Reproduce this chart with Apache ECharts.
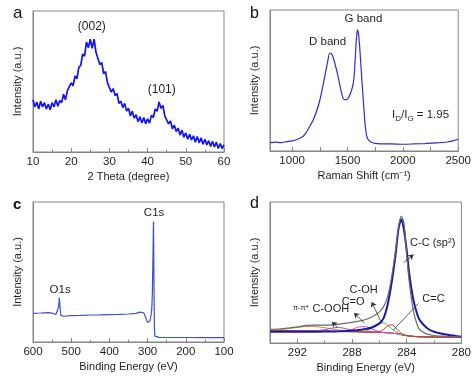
<!DOCTYPE html>
<html><head><meta charset="utf-8">
<script src="https://cdn.jsdelivr.net/npm/echarts@6/dist/echarts.min.js"></script>
<style>html,body{margin:0;padding:0;background:#fff}#c{width:474px;height:379px}</style>
</head><body><div id="c"></div>
<script>
// ---------- Panel a: XRD ----------
const xrdTheta = [10,10.5,11,11.5,12,12.5,13,13.5,14,14.5,15,15.5,16,16.5,17,17.5,18,18.5,19,19.5,20,20.5,21,21.5,22,22.5,23,23.5,24,24.5,25,25.5,26,26.5,27,27.5,28,28.5,29,29.5,30,30.5,31,31.5,32,32.5,33,33.5,34,34.5,35,35.5,36,36.5,37,37.5,38,38.5,39,39.5,40,40.5,41,41.5,42,42.5,43,43.5,44,44.5,45,45.5,46,46.5,47,47.5,48,48.5,49,49.5,50,50.5,51,51.5,52,52.5,53,53.5,54,54.5,55,55.5,56,56.5,57,57.5,58,58.5,59,59.5,60];
const xrdIntensity = [37,32,35.5,30.5,36,32,35,30.5,34,30,35,32,37,32.5,36.5,35,41,37,43.5,43,49,47,54,52,60,61.5,69.5,68,78,74,80,73.5,80,70.5,71,62,63.5,55.5,57,49,49.5,42.5,45,40,41.5,34.5,36,31.5,34.5,29,31,25.5,29,24,26.5,21.5,25,20.5,24.5,20,23.5,20.5,26,24.5,30.5,29,35.5,31,33,25.5,26.5,20,22,16.5,19,14.5,17,12,15.5,10.5,13.5,9,12.5,8.5,11.5,7,11,6.5,10,5.5,9,5,8,4,7.5,3.5,7,2.5,6,2.5,5];
const xrdPeakNames = ['(002)','(101)'];
const xrdPeakPos = [[25.4,88.9],[43.7,44]];

// ---------- Panel b: Raman ----------
const ramanShift = [800,850,900,950,1000,1050,1100,1130,1160,1190,1220,1250,1280,1300,1320,1340,1355,1370,1390,1410,1430,1450,1470,1490,1510,1530,1550,1560,1570,1580,1590,1600,1610,1620,1630,1640,1650,1660,1670,1680,1700,1720,1750,1800,1900,2000,2100,2200,2300,2400,2450,2500];
const ramanIntensity = [5.9,6.3,6.0,6.6,7.2,8.3,10.5,13.5,17.5,22,28,36,47,55,63,69.5,69,66.5,61,54.5,47,40,36.5,36.5,38,41.5,47,53,66,79,86,82.5,74,62,50,39,28,18,12,9,7,6,5.4,5.1,5.0,4.8,5.0,5.3,5.7,6.4,7.2,8.3];
const ramanTickLabels = [1000,1500,2000,2500];
const ramanTicks = [1000,1250,1500,1750,2000,2250,2500];

// ---------- Panel c: XPS survey ----------
const surveyBE = [600,580,560,550,545,540,535,533,531,529,527,524,520,500,475,450,425,400,375,350,330,320,315,310,305,300,297,294,291,289,287.5,286,285,284.5,284,283,282,281,279,270,250,200,150,100];
const surveyIntensity = [20.5,20.7,21.0,20.6,20.0,19.6,20.0,25,31.5,24,19,18.4,18.4,18.8,19.0,19.3,19.4,19.6,19.7,20.0,20.5,21.3,21.8,20.8,17.5,14,13.5,15,19,24,35,60,80,86,70,30,9,4.2,3.4,3.3,3.2,3.2,3.1,3.1];
const surveyPeakNames = ['C1s','O1s'];
const surveyPeakPos = [[283,92],[529,37.6]];

// ---------- Panel d: C1s high resolution ----------
const c1sBE = [294,293,292,291,290,289.5,289,288.5,288,287.5,287,286.5,286,285.7,285.4,285.1,284.8,284.6,284.4,284.2,284,283.8,283.5,283.2,283,282.5,282,281,280];
const c1sRaw = [9.6,10.3,11.5,12.7,12.7,12.9,13.4,13.9,14.6,15.5,16.7,18.6,22.1,25.6,32.7,47,67,82,90,85,62,42,22,12,9,6.3,5.3,4.8,4.4];
const c1sCC = [8.0,8.0,8.0,8.0,8.1,8.2,8.3,8.5,8.8,9.2,9.9,11.2,13.9,17.5,27,43,64,81,87.8,80,65.5,48,30,19.5,15.5,10.5,8,5.8,4.4];
const c1sCeqC = [8.8,8.7,8.6,8.5,8.4,8.3,8.2,8.1,8.0,7.9,7.8,7.75,8.1,9.7,12.1,13.0,10.8,8.6,6.9,5.9,5.3,4.95,4.7,4.5,4.4,4.3,4.2,4.1,4.0];
const c1sCOH = [8.8,8.7,8.6,8.5,8.4,8.3,8.2,8.1,8.0,7.95,8.45,10.8,14.05,14.3,12.6,10.1,8.05,6.95,6.2,5.6,5.3,4.9,4.7,4.5,4.4,4.3,4.2,4.1,4.0];
const c1sCO = [8.8,8.7,8.6,8.5,8.4,8.3,8.2,8.5,9.6,11.4,11.6,9.7,8.0,7.6,7.25,7.0,6.7,6.3,5.9,5.5,5.2,4.9,4.7,4.5,4.4,4.3,4.2,4.1,4.0];
const c1sCOOH = [8.8,8.7,8.6,8.55,9.4,10.5,11.0,10.3,9.0,8.2,7.8,7.7,7.5,7.4,7.2,7.0,6.7,6.3,5.9,5.5,5.2,4.9,4.7,4.5,4.4,4.3,4.2,4.1,4.0];
const c1sPi = [9.0,9.7,11.05,11.8,10.85,10.0,9.2,8.6,8.2,8.0,7.8,7.7,7.5,7.4,7.2,7.0,6.7,6.3,5.9,5.5,5.2,4.9,4.7,4.5,4.4,4.3,4.2,4.1,4.0];
const c1sBg = [8.8,8.7,8.6,8.5,8.4,8.3,8.2,8.1,8.0,7.9,7.8,7.7,7.5,7.4,7.2,7.0,6.7,6.3,5.9,5.5,5.2,4.9,4.7,4.5,4.4,4.3,4.2,4.1,4.0];

const FONT = '"Liberation Sans", Arial, sans-serif';
const TXT = '#1e1e1e';
const FRAME = '#858585';
const zip = (a, b) => a.map((v, i) => [v, b[i]]);
const plain = v => String(v);

function xAx(i, o) {
  return Object.assign({
    gridIndex: i, type: 'value',
    axisLine: {show: true, onZero: false, lineStyle: {color: FRAME, width: 1}},
    axisTick: {show: true, inside: true, length: 4, lineStyle: {color: FRAME}},
    minorTick: {show: true, splitNumber: 2, length: 2.5, lineStyle: {color: FRAME}},
    splitLine: {show: false}, minorSplitLine: {show: false},
    axisLabel: {color: TXT, fontSize: 11.5, margin: 4, fontFamily: FONT, showMinLabel: true, showMaxLabel: true, formatter: plain},
    nameLocation: 'middle', nameGap: 19,
    nameTextStyle: {color: TXT, fontSize: 11, fontFamily: FONT}
  }, o);
}
function yAx(i) {
  return {
    gridIndex: i, type: 'value', min: 0, max: 100,
    axisLine: {show: true, onZero: false, lineStyle: {color: FRAME, width: 1}},
    axisTick: {show: false}, axisLabel: {show: false}, splitLine: {show: false},
    name: 'Intensity (a.u.)', nameLocation: 'middle', nameGap: 10,
    nameTextStyle: {color: TXT, fontSize: 11, fontFamily: FONT}
  };
}
function labels(names, pos, size) {
  return {
    silent: true, symbol: 'circle', symbolSize: 0,
    label: {show: true, position: 'inside', color: TXT, fontSize: size, fontFamily: FONT, formatter: '{b}'},
    data: names.map((n, k) => ({name: n, coord: pos[k]}))
  };
}
const lineBase = {type: 'line', showSymbol: false, symbol: 'none', animation: false, silent: true};

const dLabelNames = ['C-C (sp²)', 'C-OH', 'C=O', 'C-OOH', 'π-π*', 'C=C'];
const dLabelPos = [[282.1,71],[287.15,37.3],[287.92,28.9],[289.55,24.3],[291.75,24.6],[282.04,31.5]];
const dArrows = [
  [[284.23,57],[283.5,62.7],'arrow'],
  [[285.88,15],[286.56,29.1],'arrow'],
  [[287.1,14.3],[287.85,21.3],'arrow'],
  [[289.04,11],[289.48,15],'arrow'],
  [[284.98,9.2],[283.15,28],'none']
];

const chart = echarts.init(document.getElementById('c'), null, {renderer: 'canvas'});
const grid = {show: true, borderColor: FRAME, borderWidth: 1, backgroundColor: 'transparent'};
chart.setOption({
  animation: false,
  backgroundColor: '#fff',
  textStyle: {fontFamily: FONT},
  grid: [
    Object.assign({left: 33, top: 11, width: 191, height: 141}, grid),
    Object.assign({left: 270, top: 10, width: 192, height: 141}, grid),
    Object.assign({left: 33, top: 202, width: 191, height: 140}, grid),
    Object.assign({left: 270, top: 202, width: 192, height: 141}, grid)
  ],
  xAxis: [
    xAx(0, {min: 10, max: 60, interval: 10, name: '2 Theta (degree)'}),
    xAx(1, {min: 800, max: 2500, name: 'Raman Shift (cm⁻¹)',
      axisLabel: {color: TXT, fontSize: 11.5, margin: 4, fontFamily: FONT, customValues: ramanTickLabels, formatter: plain},
      axisTick: {show: true, inside: true, length: 4, lineStyle: {color: FRAME}, customValues: ramanTicks},
      minorTick: {show: false}}),
    xAx(2, {min: 100, max: 600, interval: 100, inverse: true, name: 'Binding Energy (eV)'}),
    xAx(3, {min: 280, max: 294, interval: 4, inverse: true, name: 'Binding Energy (eV)',
      axisLabel: {color: TXT, fontSize: 11.5, margin: 4, fontFamily: FONT, showMinLabel: true, showMaxLabel: false, formatter: plain}})
  ],
  yAxis: [yAx(0), yAx(1), yAx(2), yAx(3)],
  series: [
    Object.assign({}, lineBase, {xAxisIndex: 0, yAxisIndex: 0, data: zip(xrdTheta, xrdIntensity),
      lineStyle: {color: '#1212ff', width: 1.7},
      markPoint: labels(xrdPeakNames, xrdPeakPos, 12)}),
    Object.assign({}, lineBase, {xAxisIndex: 1, yAxisIndex: 1, data: zip(ramanShift, ramanIntensity), smooth: 0.3,
      lineStyle: {color: '#2b2bd8', width: 1.2},
      markPoint: {silent: true, symbol: 'circle', symbolSize: 0,
        label: {show: true, position: 'inside', color: TXT, fontSize: 11.5, fontFamily: FONT, formatter: '{b}'},
        data: [
          {name: 'D band', coord: [1320, 77.5]},
          {name: 'G band', coord: [1644, 93.6]},
          {name: 'ratio', coord: [2160, 25.5], label: {formatter: '{t|I}{s|D}{t|/I}{s|G}{t| = 1.95}',
            rich: {t: {fontSize: 11.5, lineHeight: 16, color: TXT, fontFamily: FONT},
                   s: {fontSize: 8, lineHeight: 8, verticalAlign: 'bottom', color: TXT, fontFamily: FONT}}}}
        ]}}),
    Object.assign({}, lineBase, {xAxisIndex: 2, yAxisIndex: 2, data: zip(surveyBE, surveyIntensity),
      lineStyle: {color: '#3c4fd6', width: 1.2},
      markPoint: labels(surveyPeakNames, surveyPeakPos, 11.5)}),
    Object.assign({}, lineBase, {xAxisIndex: 3, yAxisIndex: 3, data: zip(c1sBE, c1sBg), smooth: 0.3,
      lineStyle: {color: '#b89c2c', width: 1}}),
    Object.assign({}, lineBase, {xAxisIndex: 3, yAxisIndex: 3, data: zip(c1sBE, c1sPi), smooth: 0.3,
      lineStyle: {color: '#d4843c', width: 1}}),
    Object.assign({}, lineBase, {xAxisIndex: 3, yAxisIndex: 3, data: zip(c1sBE, c1sCOOH), smooth: 0.3,
      lineStyle: {color: '#8c4fc8', width: 1}}),
    Object.assign({}, lineBase, {xAxisIndex: 3, yAxisIndex: 3, data: zip(c1sBE, c1sCO), smooth: 0.3,
      lineStyle: {color: '#e442c8', width: 1}}),
    Object.assign({}, lineBase, {xAxisIndex: 3, yAxisIndex: 3, data: zip(c1sBE, c1sCOH), smooth: 0.3,
      lineStyle: {color: '#2ec82e', width: 1}}),
    Object.assign({}, lineBase, {xAxisIndex: 3, yAxisIndex: 3, data: zip(c1sBE, c1sCeqC), smooth: 0.3,
      lineStyle: {color: '#e8202a', width: 1}}),
    Object.assign({}, lineBase, {xAxisIndex: 3, yAxisIndex: 3, data: zip(c1sBE, c1sCC), smooth: 0.3,
      lineStyle: {color: '#1a1aa8', width: 2}}),
    Object.assign({}, lineBase, {xAxisIndex: 3, yAxisIndex: 3, data: zip(c1sBE, c1sRaw), smooth: 0.3,
      lineStyle: {color: '#6a6a6a', width: 1.2},
      markPoint: {silent: true, symbol: 'circle', symbolSize: 0,
        label: {show: true, position: 'inside', color: TXT, fontSize: 11, fontFamily: FONT, formatter: '{b}'},
        data: dLabelNames.map((n, k) => ({name: n, coord: dLabelPos[k],
          label: n === 'π-π*' ? {fontSize: 7.5} : {}}))},
      markLine: {silent: true, symbolSize: 5, animation: false,
        lineStyle: {color: '#333', width: 0.8, type: 'solid'}, label: {show: false},
        data: dArrows.map(a => [{coord: a[0], symbol: 'none'}, {coord: a[1], symbol: a[2]}])}})
  ],
  graphic: [
    {type: 'text', left: 13, top: 5, style: {text: 'a', font: '17px "Liberation Sans", Arial', fill: '#111'}},
    {type: 'text', left: 250, top: 6, style: {text: 'b', font: '16px "Liberation Sans", Arial', fill: '#111'}},
    {type: 'text', left: 13, top: 197, style: {text: 'c', font: 'bold 15px "Liberation Sans", Arial', fill: '#111'}},
    {type: 'text', left: 250, top: 196, style: {text: 'd', font: '16px "Liberation Sans", Arial', fill: '#111'}}
  ]
});
</script></body></html>
